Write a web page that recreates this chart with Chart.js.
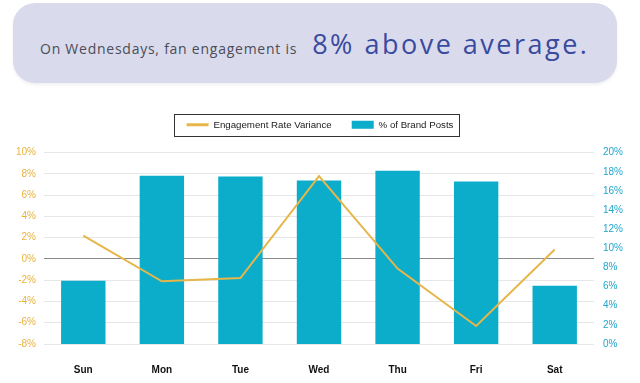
<!DOCTYPE html>
<html>
<head>
<meta charset="utf-8">
<script src="https://cdn.jsdelivr.net/npm/chart.js@4.4.1/dist/chart.umd.min.js"></script>
<style>
  html, body { margin: 0; padding: 0; background: #ffffff; }
  #wrap { position: relative; width: 640px; height: 383px; overflow: hidden; }
  #header {
    position: absolute; left: 13px; top: 3px; width: 604px; height: 80px;
    background: #d9dbed; border-radius: 22px;
    box-shadow: 0 2px 3px rgba(0,0,0,0.06);
    font-family: "Open Sans", "Lato", sans-serif;
    white-space: nowrap;
  }
  #header .line { position: absolute; left: 27px; top: 22px; }
  #header .small { font-size: 14px; color: #4b4c58; letter-spacing: 0.75px; }
  #header .big { font-size: 27px; color: #3a4a9e; letter-spacing: 2.5px; margin-left: 15px; }
  canvas { position: absolute; left: 0; top: 0; }
</style>
</head>
<body>
<div id="wrap">
  <div id="header"><div class="line"><span class="small">On Wednesdays, fan engagement is</span><span class="big">8% above average.</span></div></div>
  <canvas id="c" width="640" height="383"></canvas>
</div>
<script>
const days = ['Sun', 'Mon', 'Tue', 'Wed', 'Thu', 'Fri', 'Sat'];
const engagementVariance = [2.2, -2.1, -1.8, 7.8, -0.9, -6.3, 0.9];
const brandPosts = [6.6, 17.6, 17.5, 17.1, 18.1, 17.0, 6.1];
const leftTicks = { min: -8, max: 10, step: 2 };
const rightTicks = { min: 0, max: 20, step: 2 };

const gold = '#e6b64a';
const teal = '#0badca';

const legendGap = {
  id: 'legendGap',
  beforeInit(chart) {
    const lg = chart.legend;
    if (!lg) return;
    const origFit = lg.fit.bind(lg);
    lg.fit = function () {
      origFit();
      this.height += 13;
    };
  }
};

const legendBorder = {
  id: 'legendBorder',
  afterDraw(chart) {
    const lg = chart.legend;
    if (!lg || !lg.legendHitBoxes || !lg.legendHitBoxes.length) return;
    const hb = lg.legendHitBoxes;
    const first = hb[0], last = hb[hb.length - 1];
    const ctx = chart.ctx;
    const x0 = Math.round(first.left - 13) + 0.5;
    const x1 = Math.round(last.left + last.width + 6) + 0.5;
    const y0 = Math.round(first.top - 6) + 0.5;
    const y1 = Math.round(first.top + first.height + 6) + 0.5;
    ctx.save();
    ctx.strokeStyle = '#333333';
    ctx.lineWidth = 1;
    ctx.strokeRect(x0, y0, x1 - x0, y1 - y0);
    ctx.restore();
  }
};

new Chart(document.getElementById('c'), {
  data: {
    labels: days,
    datasets: [
      {
        type: 'line',
        label: 'Engagement Rate Variance',
        data: engagementVariance,
        yAxisID: 'y',
        borderColor: gold,
        backgroundColor: gold,
        borderWidth: 2,
        pointRadius: 0,
        tension: 0,
        fill: false
      },
      {
        type: 'bar',
        label: '% of Brand Posts',
        data: brandPosts,
        yAxisID: 'y1',
        backgroundColor: teal,
        borderWidth: 0,
        barPercentage: 0.565,
        categoryPercentage: 1.0
      }
    ]
  },
  options: {
    responsive: false,
    devicePixelRatio: 1,
    animation: false,
    layout: { padding: { top: 100, left: 0, right: 0, bottom: 0 } },
    plugins: {
      tooltip: { enabled: false },
      legend: {
        position: 'top',
        labels: {
          usePointStyle: true,
          pointStyleWidth: 22,
          boxHeight: 8,
          padding: 20,
          color: '#1a1a1a',
          font: { family: '"Liberation Sans", Arial, sans-serif', size: 9.7 },
          generateLabels(chart) {
            return chart.data.datasets.map((ds, i) => ({
              text: ds.label,
              datasetIndex: i,
              fillStyle: ds.type === 'line' ? gold : teal,
              strokeStyle: ds.type === 'line' ? gold : teal,
              lineWidth: ds.type === 'line' ? 3 : 0,
              pointStyle: ds.type === 'line' ? 'line' : 'rect',
              fontColor: '#1a1a1a',
              hidden: false
            }));
          }
        }
      }
    },
    scales: {
      x: {
        offset: true,
        grid: { display: false, drawTicks: false },
        border: { display: false },
        ticks: {
          padding: 20,
          color: '#111111',
          font: { family: '"Liberation Sans", Arial, sans-serif', size: 10, weight: 'bold' }
        },
        afterFit(scale) { scale.height = 39; }
      },
      y: {
        position: 'left',
        min: leftTicks.min,
        max: leftTicks.max,
        border: { display: false },
        grid: {
          drawTicks: false,
          color: (ctx) => ctx.tick && ctx.tick.value === 0 ? '#8a8a8a' : '#e6e6e6',
          lineWidth: 1
        },
        ticks: {
          stepSize: leftTicks.step,
          padding: 8,
          color: '#e8b23c',
          font: { family: '"Liberation Sans", Arial, sans-serif', size: 10 },
          callback: (v) => v + '%'
        },
        afterFit(scale) { scale.width = 44; }
      },
      y1: {
        position: 'right',
        min: rightTicks.min,
        max: rightTicks.max,
        border: { display: false },
        grid: { display: false, drawTicks: false },
        ticks: {
          stepSize: rightTicks.step,
          padding: 9,
          color: '#22a6cc',
          font: { family: '"Liberation Sans", Arial, sans-serif', size: 10 },
          callback: (v) => v + '%'
        },
        afterFit(scale) { scale.width = 46; }
      }
    }
  },
  plugins: [legendGap, legendBorder]
});
</script>
</body>
</html>
